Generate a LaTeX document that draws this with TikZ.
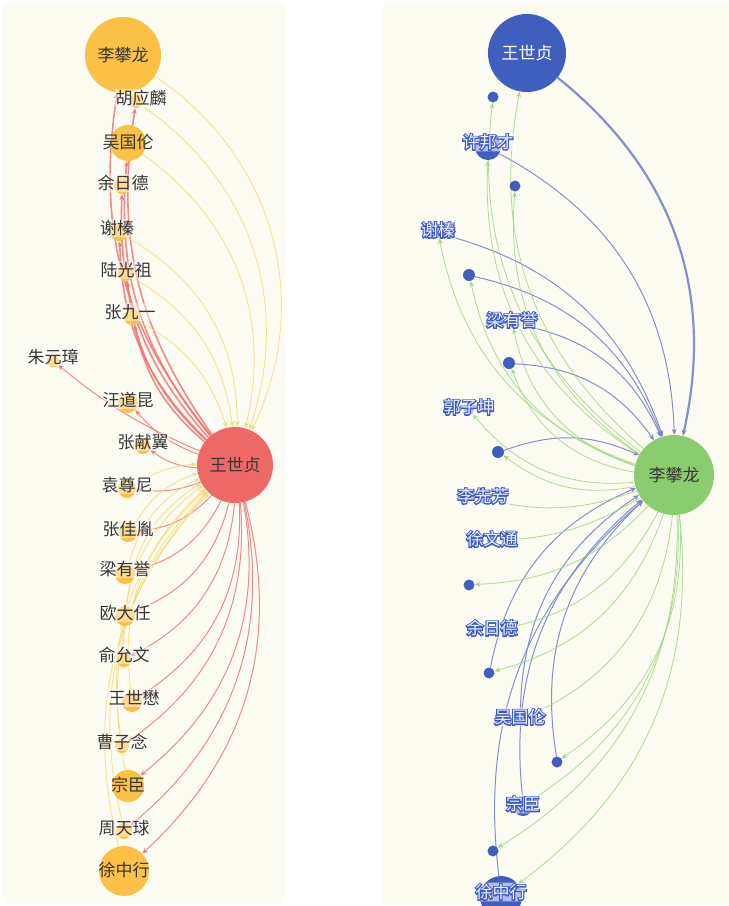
\documentclass[tikz,border=0pt]{standalone}
\usepackage{fontspec}
\newfontfamily\cjk{Noto Sans CJK SC}
\newfontfamily\cjko[FakeBold=13]{Noto Sans CJK SC}
\usetikzlibrary{arrows.meta}
\definecolor{cream}{RGB}{252,252,243}
\definecolor{ynode}{RGB}{250,193,70}
\definecolor{rnode}{RGB}{238,104,104}
\definecolor{bnode}{RGB}{64,94,190}
\definecolor{gnode}{RGB}{140,204,112}
\definecolor{redge}{RGB}{240,118,118}
\definecolor{yedge}{RGB}{246,218,120}
\definecolor{bedge}{RGB}{118,132,205}
\definecolor{gedge}{RGB}{160,214,128}
\definecolor{ltext}{RGB}{55,55,55}
\definecolor{rtext}{RGB}{62,90,196}
\definecolor{rinner}{RGB}{236,240,252}
\pgfdeclarelayer{bg}\pgfdeclarelayer{edges}\pgfsetlayers{bg,edges,main}
\tikzset{
  yc/.style={circle,fill=ynode,draw=none,inner sep=0pt,minimum size=#1pt},
  bc/.style={circle,fill=bnode,draw=none,inner sep=0pt,minimum size=#1pt},
  llabel/.style={font=\cjk\fontsize{17}{19}\selectfont,text=ltext,inner sep=1pt,fill=white,fill opacity=0.45,text opacity=1},
  clabel/.style={font=\cjk\fontsize{17}{19}\selectfont,inner sep=1pt},
  rout/.style={font=\cjko\fontsize{17}{19}\selectfont,text=rtext,inner sep=1.5pt,rounded corners=2pt,fill=white,fill opacity=0.6,text opacity=1},
  rin/.style={font=\cjk\fontsize{17}{19}\selectfont,text=rinner,inner sep=1.5pt},
  tip/.style={-{Stealth[length=6pt,width=5pt]}},
  re/.style={tip,draw=redge,line width=1pt,draw opacity=0.85,bend left=#1},
  re/.default=28,
  ye/.style={tip,draw=yedge,line width=0.9pt,draw opacity=0.8,bend left=#1},
  ye/.default=28,
  be/.style={tip,draw=bedge,line width=1pt,draw opacity=0.9,bend left=#1},
  be/.default=30,
  ge/.style={tip,draw=gedge,line width=0.8pt,draw opacity=0.85,bend left=#1},
  ge/.default=30,
}
\newcommand\rlab[3]{%
  \node[rout] (#1o) at (#2) {#3};
  \node[rin] (#1) at (#2) {#3};}
\begin{document}
\begin{tikzpicture}[x=1pt,y=1pt]
\useasboundingbox (0,0) rectangle (729,-906);
\begin{pgfonlayer}{bg}
\fill[white] (0,0) rectangle (729,-906);
\fill[cream] (3,-3) rectangle (285,-903);
\fill[cream] (383,-3) rectangle (729,-905);
\end{pgfonlayer}
% ---------------- left panel nodes ----------------
\node[yc=76] (llpl) at (123,-55) {};
\node[yc=14] (lhu) at (136,-101) {};
\node[yc=36] (lwu) at (128,-143) {};
\node[yc=16] (lyu) at (122,-186) {};
\node[yc=18] (lxie) at (119,-232) {};
\node[yc=16] (llu) at (126,-273) {};
\node[yc=16] (lzj) at (132,-317) {};
\node[yc=12] (lzhu) at (53,-361) {};
\node[yc=20] (lwang) at (128,-403) {};
\node[yc=16] (lxian) at (143,-446) {};
\node[circle,fill=rnode,inner sep=0pt,minimum size=76pt] (lw) at (235,-465) {};
\node[yc=18] (lyuan) at (127,-489) {};
\node[yc=18] (lzjy) at (128,-533) {};
\node[yc=20] (lliang) at (125,-574) {};
\node[yc=20] (lou) at (125,-616) {};
\node[yc=14] (lyuw) at (124,-660) {};
\node[yc=20] (lwsm) at (132,-702) {};
\node[yc=14] (lcao) at (122,-746) {};
\node[yc=32] (lzong) at (128,-786) {};
\node[yc=16] (lzhou) at (124,-831) {};
\node[yc=50] (lxu) at (124,-871) {};
% left edges
\begin{pgfonlayer}{edges}
\foreach \t/\b in {llpl/24,lhu/22,lwu/22,lyu/22,lxie/22,llu/20,lzj/18}{
  \draw[re=\b,line width=1.6pt] (lw) to (\t);}
\foreach \t/\b in {lzhu/8,lwang/14,lxian/16,lyuan/14,lzjy/20,lliang/24,lou/27,lyuw/29,lwsm/30,lcao/30,lzong/31,lzhou/31,lxu/31}{
  \draw[re=\b] (lw) to (\t);}
\foreach \t/\b in {llpl/41,lhu/37,lwu/34,lxie/30,llu/26,lzj/22}{
  \draw[ye=\b] (\t) to (lw);}
\foreach \t/\b in {lyuan/14,lzjy/20,lliang/24,lou/26,lyuw/28,lwsm/28,lcao/28,lzong/28,lzhou/28,lxu/28}{
  \draw[ye=\b] (\t) to (lw);}
\end{pgfonlayer}
% left labels
\node[clabel,text=ltext] (tlpl) at (123,-55) {李攀龙};
\node[llabel] (thu) at (141,-98) {胡应麟};
\node[clabel,text=ltext] (twu) at (128,-142) {吴国伦};
\node[llabel] (tyu) at (123,-183) {余日德};
\node[llabel] (txie) at (117,-228) {谢榛};
\node[llabel] (tlu) at (126,-270) {陆光祖};
\node[llabel] (tzj) at (130,-312) {张九一};
\node[llabel] (tzhu) at (53,-357) {朱元璋};
\node[llabel] (twang) at (128,-400) {汪道昆};
\node[llabel] (txian) at (143,-442) {张献翼};
\node[clabel,text=ltext] (tw) at (235,-465) {王世贞};
\node[llabel] (tyuan) at (127,-485) {袁尊尼};
\node[llabel] (tzjy) at (128,-529) {张佳胤};
\node[llabel] (tliang) at (125,-569) {梁有誉};
\node[llabel] (tou) at (125,-613) {欧大任};
\node[llabel] (tyuw) at (124,-655) {俞允文};
\node[llabel] (twsm) at (134,-698) {王世懋};
\node[llabel] (tcao) at (122,-742) {曹子念};
\node[clabel,text=ltext] (tzong) at (128,-785) {宗臣};
\node[llabel] (tzhou) at (124,-828) {周天球};
\node[clabel,text=ltext] (txu) at (124,-870) {徐中行};
% ---------------- right panel nodes ----------------
\node[bc=78] (rw) at (527,-53) {};
\node[bc=11] (rd1) at (493,-97) {};
\node[bc=26] (rxu) at (488,-147) {};
\node[bc=11] (rd2) at (515,-186) {};
\node[bc=10] (rxie) at (438,-233) {};
\node[bc=12] (rd3) at (469,-275) {};
\node[bc=10] (rliang) at (512,-323) {};
\node[bc=12] (rd4) at (509,-363) {};
\node[bc=10] (rguo) at (469,-410) {};
\node[bc=12] (rd5) at (498,-452) {};
\node[circle,fill=gnode,inner sep=0pt,minimum size=80pt] (rl) at (674,-475) {};
\node[bc=10] (rli) at (483,-499) {};
\node[bc=10] (rxwt) at (492,-541) {};
\node[bc=11] (rd6) at (469,-585) {};
\node[bc=10] (ryu) at (492,-631) {};
\node[bc=11] (rd7) at (489,-673) {};
\node[bc=10] (rwu) at (520,-720) {};
\node[bc=11] (rd8) at (557,-762) {};
\node[bc=20] (rzong) at (523,-806) {};
\node[bc=11] (rd9) at (493,-851) {};
\node[bc=42] (rxuz) at (501,-897) {};
% right edges
\begin{pgfonlayer}{edges}
\draw[be=32,line width=2.2pt] (rw) to (rl);
\foreach \t/\b in {rxu/30,rxie/28,rd3/28,rliang/28,rd4/26,rd5/22,rd7/28,rwu/28,rd8/28,rzong/28,rxuz/28}{
  \draw[be=\b] (\t) to (rl);}
\foreach \t/\b in {rd1/30,rw/30,rxu/30,rd2/30,rxie/30,rd3/30,rliang/30,rd4/30,rguo/28,rd5/24,rli/16,rxwt/14,rd6/22,ryu/26,rd7/28,rwu/30,rd8/30,rzong/30,rd9/30,rxuz/30}{
  \draw[ge=\b] (rl) to (\t);}
\end{pgfonlayer}
% right labels
\node[clabel,text=white] (tw2) at (527,-53) {王世贞};
\node[clabel,text=ltext] (tl2) at (674,-475) {李攀龙};
\rlab{txu2}{488,-142}{许邦才}
\rlab{txie2}{438,-230}{谢榛}
\rlab{tliang2}{512,-320}{梁有誉}
\rlab{tguo2}{469,-407}{郭子坤}
\rlab{tli2}{483,-496}{李先芳}
\rlab{txwt2}{492,-539}{徐文通}
\rlab{tyu2}{492,-628}{余日德}
\rlab{twu2}{520,-717}{吴国伦}
\rlab{tzong2}{523,-804}{宗臣}
\rlab{txuz2}{501,-892}{徐中行}
\end{tikzpicture}
\end{document}
